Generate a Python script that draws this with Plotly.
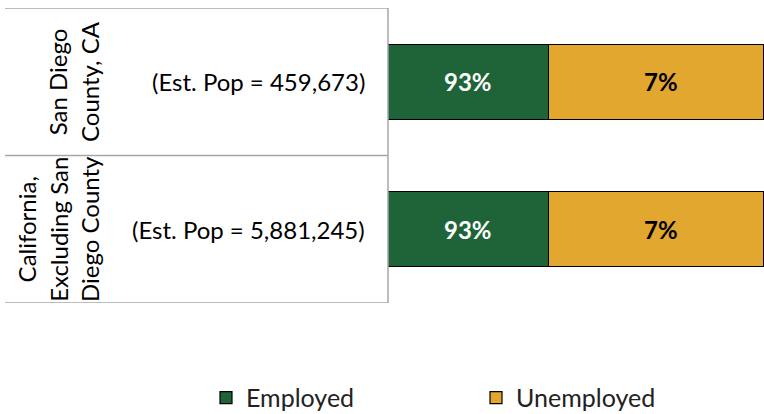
import plotly.graph_objects as go

regions = ["San Diego<br>County, CA", "California,<br>Excluding San<br>Diego County"]
pop_labels = ["(Est. Pop = 459,673)", "(Est. Pop = 5,881,245)"]
employed = [93, 93]
unemployed = [7, 7]
series_names = ["Employed", "Unemployed"]
colors = ["#1F6339", "#E2A72E"]

FONT = "Lato"
x_range = [87.8, 100]
cats = list(range(len(regions)))

fig = go.Figure()
legend_ids = ["legend", "legend2"]
for name, vals, col, lg in zip(series_names, [employed, unemployed], colors, legend_ids):
    fig.add_trace(go.Bar(
        y=cats, x=vals, name=name, orientation="h",
        marker=dict(color=col, line=dict(color="#000000", width=1.2)),
        width=0.51, hoverinfo="skip", legend=lg,
    ))

for i in cats:
    e0 = max(x_range[0], 0)
    fig.add_annotation(x=(e0 + employed[i]) / 2, y=i, xref="x", yref="y",
                       text=f"<b>{employed[i]}%</b>", showarrow=False,
                       font=dict(family=FONT, size=24, color="white"))
    fig.add_annotation(x=employed[i] + unemployed[i] / 2 + 0.15, y=i, xref="x", yref="y",
                       text=f"<b>{unemployed[i]}%</b>", showarrow=False,
                       font=dict(family=FONT, size=24, color="black"))
    fig.add_annotation(x=-0.752, y=i, xref="paper", yref="y", text=regions[i],
                       textangle=-90, showarrow=False, xanchor="right",
                       font=dict(family=FONT, size=24, color="black"))
    fig.add_annotation(x=-0.0555, y=i, xref="paper", yref="y", text=pop_labels[i],
                       xanchor="right", showarrow=False,
                       font=dict(family=FONT, size=24, color="black"))

line_col = "#A6A6A6"
for b in [-0.5 + k for k in range(len(regions) + 1)]:
    fig.add_shape(type="line", xref="paper", yref="y", x0=-1.0186, x1=0, y0=b, y1=b,
                  line=dict(color=line_col, width=1.5))
fig.add_shape(type="line", xref="paper", yref="y", x0=0, x1=0, y0=-0.5, y1=len(regions) - 0.5,
              line=dict(color=line_col, width=1.5))

leg_common = dict(orientation="h", xref="container", yref="container",
                  xanchor="left", y=0.039, yanchor="middle",
                  font=dict(family=FONT, size=25, color="#222222"))

fig.update_layout(
    barmode="stack",
    width=764, height=414,
    margin=dict(l=388, r=0, t=7.5, b=110.5, autoexpand=False),
    plot_bgcolor="white", paper_bgcolor="white",
    showlegend=True,
    legend=dict(x=206 / 764, **leg_common),
    legend2=dict(x=476 / 764, **leg_common),
    xaxis=dict(range=x_range, visible=False, fixedrange=True),
    yaxis=dict(range=[len(regions) - 0.5, -0.5], visible=False, fixedrange=True),
)

fig.write_html("out.html", config={"displayModeBar": False},
               post_script="document.body.style.margin='0';")
